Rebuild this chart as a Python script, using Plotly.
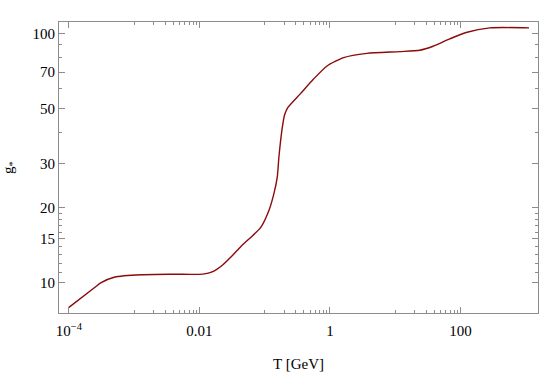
import plotly.graph_objects as go

# temperature in GeV and effective entropy degrees of freedom
T_gev = [1e-4, 2.51e-4, 3.07e-4, 5.07e-4, 1.3e-3, 4e-3, 0.0113, 0.016, 0.0227,
         0.0323, 0.0432, 0.0871, 0.116, 0.139, 0.156, 0.165, 0.186, 0.202,
         0.227, 0.354, 0.565, 0.904, 1.62, 3.67, 11.8, 23.8, 38.0, 68.2,
         122.0, 282.0, 1122.0]
g_s = [7.98, 9.61, 10.0, 10.56, 10.78, 10.83, 10.85, 11.1, 11.8,
       12.9, 14.0, 16.7, 19.5, 22.9, 26.6, 31.9, 41.9, 47.2,
       50.5, 57.4, 65.8, 74.1, 80.0, 83.2, 84.6, 85.7, 88.9, 95.1,
       100.9, 105.3, 105.3]

x_ticks = [1e-4, 0.01, 1, 100]
x_labels = ["10<sup>\u22124</sup>", "0.01", "1", "100"]
x_minor = [k * 10.0 ** e for e in (-3, -1, 1) for k in range(1, 10)]

y_ticks = [10, 15, 20, 30, 50, 70, 100]
y_minor = [11, 12, 13, 14, 16, 17, 18, 19, 40, 60, 80, 90]

frame = "#8c8c8c"
font = "Liberation Serif"

fig = go.Figure(go.Scatter(
    x=T_gev, y=g_s, mode="lines",
    line=dict(color="#8b0a0a", width=1.4, shape="spline", smoothing=0.6),
    hoverinfo="skip",
))

fig.update_xaxes(
    type="log", range=[-4.152, 3.188],
    tickmode="array", tickvals=x_ticks, ticktext=x_labels,
    ticks="inside", ticklen=6, tickwidth=1, tickcolor=frame,
    ticklabelstandoff=4,
    minor=dict(tickmode="array", tickvals=x_minor, ticks="inside",
               ticklen=3, tickcolor=frame, showgrid=False),
    showline=True, linecolor=frame, linewidth=1, mirror="ticks",
    showgrid=False, zeroline=False,
    title=dict(text="T [GeV]", standoff=20, font=dict(size=15)),
)
fig.update_yaxes(
    type="log", range=[0.8794, 2.046],
    tickmode="array", tickvals=y_ticks, ticktext=[str(v) for v in y_ticks],
    ticks="inside", ticklen=6, tickwidth=1, tickcolor=frame,
    minor=dict(tickmode="array", tickvals=y_minor, ticks="inside",
               ticklen=3, tickcolor=frame, showgrid=False),
    showline=True, linecolor=frame, linewidth=1, mirror="ticks",
    showgrid=False, zeroline=False,
    title=dict(text="g<sub>*</sub>", standoff=16, font=dict(size=15)),
)

fig.update_layout(
    width=545, height=376,
    margin=dict(l=57, r=6, t=22, b=57),
    paper_bgcolor="white", plot_bgcolor="white",
    font=dict(family=font, size=15, color="black"),
    showlegend=False,
)

# drop the default page margin so the figure sits at the window corner
fig.write_html("out.html", config={"displayModeBar": False},
               post_script="document.body.style.margin='0';")
